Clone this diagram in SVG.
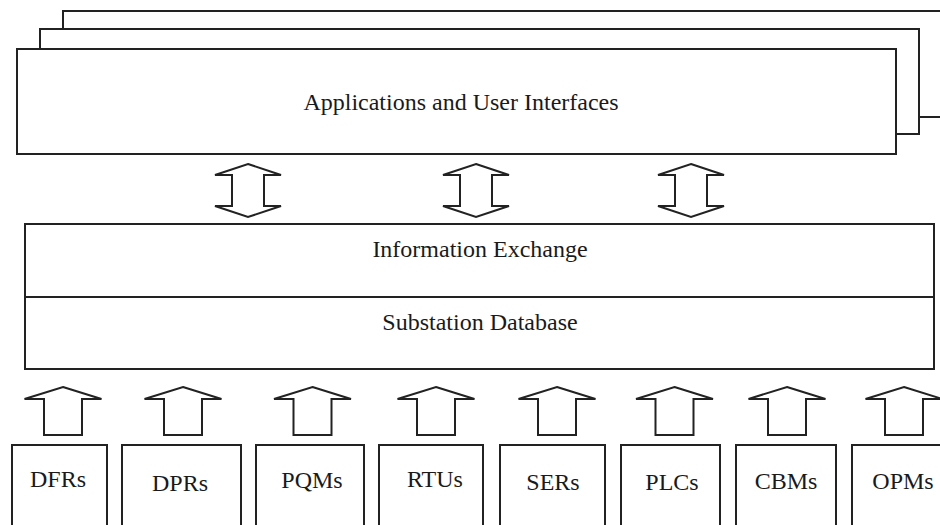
<svg xmlns="http://www.w3.org/2000/svg" width="940" height="525" viewBox="0 0 940 525">
<style>
.box{fill:#fff;stroke:#222;stroke-width:2}
.ln{fill:none;stroke:#222;stroke-width:2}
.arr{fill:#fff;stroke:#222;stroke-width:2;stroke-linejoin:miter}
text{font-family:"Liberation Serif","Times New Roman",serif;font-size:24px;fill:#1a1a1a;text-anchor:middle}
</style>
<defs>
<path id="dbl" d="M0,-26.5 L33,-15.5 L16,-15.5 L16,15.5 L33,15.5 L0,26.5 L-33,15.5 L-16,15.5 L-16,-15.5 L-33,-15.5 Z"/>
<path id="up" d="M0,0 L38.5,12 L19,12 L19,48 L-19,48 L-19,12 L-38.5,12 Z"/>
</defs>
<rect width="940" height="525" fill="#fff"/>
<g id="apps">
<rect class="box" x="63" y="11" width="900" height="106"/>
<rect class="box" x="40" y="29" width="879" height="105"/>
<rect class="box" x="17" y="49" width="879" height="105"/>
<text x="461" y="110">Applications and User Interfaces</text>
</g>
<g id="info">
<rect class="box" x="25" y="224" width="909" height="145"/>
<line class="ln" x1="25" y1="297" x2="934" y2="297"/>
<text x="480" y="257">Information Exchange</text>
<text x="480" y="330">Substation Database</text>
</g>
<g id="dfrs"><rect class="box" x="12" y="445" width="95" height="100"/><text x="58" y="487">DFRs</text></g>
<g id="dprs"><rect class="box" x="122" y="445" width="119" height="100"/><text x="180" y="491">DPRs</text></g>
<g id="pqms"><rect class="box" x="256" y="445" width="108" height="100"/><text x="312" y="488">PQMs</text></g>
<g id="rtus"><rect class="box" x="379" y="445" width="104" height="100"/><text x="435" y="487">RTUs</text></g>
<g id="sers"><rect class="box" x="500" y="445" width="105" height="100"/><text x="553" y="490">SERs</text></g>
<g id="plcs"><rect class="box" x="621" y="445" width="99" height="100"/><text x="672" y="490">PLCs</text></g>
<g id="cbms"><rect class="box" x="736" y="445" width="100" height="100"/><text x="786" y="489">CBMs</text></g>
<g id="opms"><rect class="box" x="852" y="445" width="120" height="100"/><text x="903" y="489">OPMs</text></g>
<g id="connectors">
<use href="#dbl" class="arr" x="248" y="190.5"/>
<use href="#dbl" class="arr" x="476" y="190.5"/>
<use href="#dbl" class="arr" x="691" y="190.5"/>
<use href="#up" class="arr" x="63" y="387"/>
<use href="#up" class="arr" x="183" y="387"/>
<use href="#up" class="arr" x="312.5" y="387"/>
<use href="#up" class="arr" x="436" y="387"/>
<use href="#up" class="arr" x="557" y="387"/>
<use href="#up" class="arr" x="674.5" y="387"/>
<use href="#up" class="arr" x="787" y="387"/>
<use href="#up" class="arr" x="904" y="387"/>
</g>
</svg>
